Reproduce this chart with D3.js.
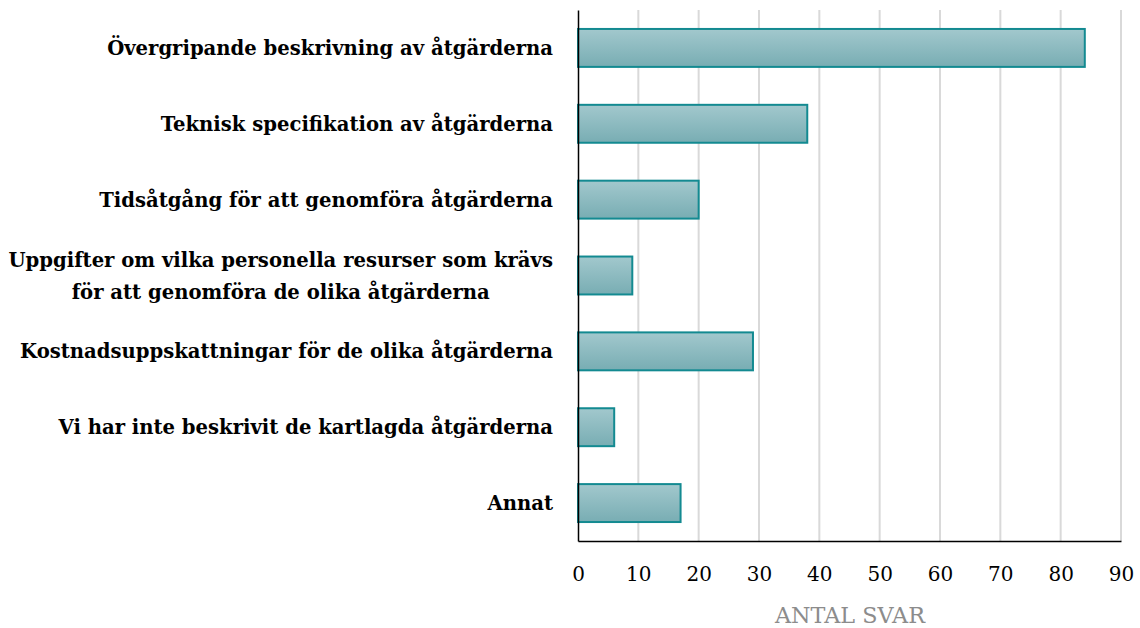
<!DOCTYPE html>
<html><head><meta charset="utf-8">
<script src="https://cdn.jsdelivr.net/npm/d3@7"></script>
<style>body{margin:0;background:#fff}</style>
</head><body>
<svg id="chart" width="1140" height="628"></svg>
<script>
const categories = [
  "Övergripande beskrivning av åtgärderna",
  "Teknisk specifikation av åtgärderna",
  "Tidsåtgång för att genomföra åtgärderna",
  "Uppgifter om vilka personella resurser som krävs\nför att genomföra de olika åtgärderna",
  "Kostnadsuppskattningar för de olika åtgärderna",
  "Vi har inte beskrivit de kartlagda åtgärderna",
  "Annat"
];
const values = [84, 38, 20, 9, 29, 6, 17];
const tickValues = [0, 10, 20, 30, 40, 50, 60, 70, 80, 90];
const axisTitle = "ANTAL SVAR";

const FONT = "'DejaVu Serif', serif";
const svg = d3.select("#chart");
const m = {left: 578, right: 1121, top: 10, bottom: 541};
const x = d3.scaleLinear().domain([0, 90]).range([m.left, m.right]);
const y = d3.scaleBand().domain(categories).range([m.top, m.bottom]).paddingInner(0.5).paddingOuter(0.25);

const defs = svg.append("defs");
const g = defs.append("linearGradient").attr("id","barGrad").attr("x1",0).attr("y1",0).attr("x2",0).attr("y2",1);
g.append("stop").attr("offset","0%").attr("stop-color","#a2c8cd");
g.append("stop").attr("offset","100%").attr("stop-color","#78adb3");

// gridlines
svg.append("g").selectAll("line").data(tickValues.filter(d=>d>0)).join("line")
  .attr("x1", d=>x(d)).attr("x2", d=>x(d)).attr("y1", m.top).attr("y2", m.bottom)
  .attr("stroke", "#d9d9d9").attr("stroke-width", 2);

// bars
svg.append("g").selectAll("rect").data(values).join("rect")
  .attr("x", x(0)).attr("y", (d,i)=>y(categories[i]))
  .attr("width", d=>x(d)-x(0)).attr("height", y.bandwidth())
  .attr("fill", "url(#barGrad)").attr("stroke", "#138a91").attr("stroke-width", 2);

// axes
const xAxis = d3.axisBottom(x).tickValues(tickValues).tickSize(0).tickPadding(26);
const xa = svg.append("g").attr("transform", `translate(0,${m.bottom})`).call(xAxis);
xa.select(".domain").attr("stroke", "#000").attr("stroke-width", 1.5);
xa.selectAll("text").attr("font-family", FONT).attr("font-size", 20).attr("fill", "#000");

const yAxis = d3.axisLeft(y).tickSize(0).tickFormat("");
const ya = svg.append("g").attr("transform", `translate(${m.left},0)`).call(yAxis);
ya.select(".domain").attr("stroke", "#000").attr("stroke-width", 1.5);

// category labels
const labelRight = 553;
const lg = svg.append("g").attr("font-family", FONT).attr("font-weight", "bold").attr("font-size", 18).attr("fill", "#000");
const probe = lg.append("text").text(categories[0]);
const fs = 18 * 446 / probe.node().getComputedTextLength();
probe.remove();
lg.attr("font-size", fs);
categories.forEach((c, i) => {
  const lines = c.split("\n");
  const cy = y(c) + y.bandwidth()/2;
  const lh = 32;
  const t = lg.append("text").attr("text-anchor", "middle").attr("dominant-baseline", "central");
  lines.forEach((ln, j) => {
    t.append("tspan").attr("y", cy + (j - (lines.length-1)/2) * lh).text(ln);
  });
  let maxW = 0;
  t.selectAll("tspan").each(function(){ maxW = Math.max(maxW, this.getComputedTextLength()); });
  t.selectAll("tspan").attr("x", labelRight - maxW/2);
});

const title = svg.append("text").attr("x", 850).attr("y", 623)
  .attr("text-anchor", "middle").attr("font-family", FONT)
  .attr("font-size", 18).attr("fill", "#8c8c8c").text(axisTitle);
const tw = title.node().getComputedTextLength();
title.attr("font-size", 18 * 150 / tw);
</script>
</body></html>
